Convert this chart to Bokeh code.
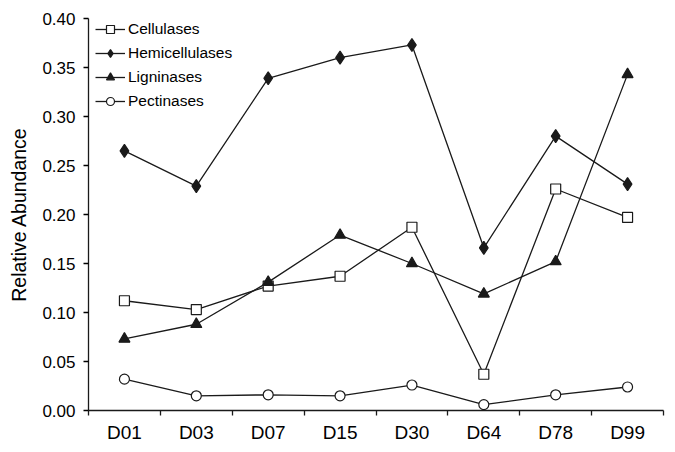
from bokeh.plotting import figure
from bokeh.models import (Range1d, FixedTicker, SingleIntervalTicker, NumeralTickFormatter,
                          Legend, LegendItem)
from bokeh.embed import file_html
from bokeh.resources import INLINE

days = ["D01", "D03", "D07", "D15", "D30", "D64", "D78", "D99"]
cellulases = [0.112, 0.103, 0.127, 0.137, 0.187, 0.037, 0.226, 0.197]
hemicellulases = [0.265, 0.229, 0.339, 0.360, 0.373, 0.166, 0.280, 0.231]
ligninases = [0.073, 0.088, 0.131, 0.179, 0.150, 0.119, 0.152, 0.343]
pectinases = [0.032, 0.015, 0.016, 0.015, 0.026, 0.006, 0.016, 0.024]

FONT = "Liberation Sans"
INK = "#1a1a1a"

xs = [i + 0.5 for i in range(len(days))]

p = figure(width=675, height=452,
           output_backend="svg", toolbar_location=None,
           x_range=Range1d(0, len(days)), y_range=Range1d(0, 0.40),
           min_border_left=88, min_border_top=18, min_border_right=12, min_border_bottom=42)
p.outline_line_color = None
p.xgrid.grid_line_color = None
p.ygrid.grid_line_color = None
p.background_fill_color = "white"
p.border_fill_color = "white"

# x axis: labels at centres, tick marks at category boundaries
p.xaxis.ticker = FixedTicker(ticks=xs, minor_ticks=list(range(len(days) + 1)))
p.xaxis.major_label_overrides = {x: d for x, d in zip(xs, days)}
p.xaxis.major_tick_line_color = None
p.xaxis.major_tick_out = 0
p.xaxis.major_tick_in = 0
p.xaxis.minor_tick_out = 5
p.xaxis.minor_tick_in = 0
p.xaxis.minor_tick_line_color = INK
p.xaxis.minor_tick_line_width = 1.3
p.xaxis.major_label_text_font = FONT
p.xaxis.major_label_text_font_size = "19px"
p.xaxis.major_label_text_color = "black"
p.xaxis.major_label_standoff = 6

p.yaxis.ticker = SingleIntervalTicker(interval=0.05, num_minor_ticks=0)
p.yaxis.formatter = NumeralTickFormatter(format="0.00")
p.yaxis.major_tick_out = 5
p.yaxis.major_tick_in = 0
p.yaxis.minor_tick_line_color = None
p.yaxis.major_label_text_font = FONT
p.yaxis.major_label_text_font_size = "17px"
p.yaxis.major_label_text_color = "black"
p.yaxis.major_label_standoff = 8
p.yaxis.axis_label = "Relative Abundance"
p.yaxis.axis_label_text_font = FONT
p.yaxis.axis_label_text_font_style = "normal"
p.yaxis.axis_label_text_font_size = "19.5px"
p.yaxis.axis_label_text_color = "black"
p.yaxis.axis_label_standoff = 9

for ax in (p.xaxis, p.yaxis):
    ax.axis_line_color = INK
    ax.axis_line_width = 1.3
    ax.major_tick_line_width = 1.3

series = [
    ("Cellulases", cellulases, "square", 10, "white"),
    ("Hemicellulases", hemicellulases, "diamond", 13, INK),
    ("Ligninases", ligninases, "triangle", 11, INK),
    ("Pectinases", pectinases, "circle", 10, "white"),
]

items = []
for name, vals, marker, size, fill in series:
    ln = p.line(xs, vals, line_color=INK, line_width=1.3)
    mk = p.scatter(xs, vals, marker=marker, size=size, fill_color=fill,
                   line_color=INK, line_width=1.2)
    items.append(LegendItem(label=name, renderers=[ln, mk]))

legend = Legend(items=items, location=(7, 299), padding=2, margin=0,
                glyph_width=30, glyph_height=20, spacing=4, label_standoff=3,
                label_text_font=FONT, label_text_font_size="15.5px",
                label_text_color="black", border_line_color=None,
                background_fill_alpha=0)
p.add_layout(legend)

open("out.html", "w").write(file_html(p, INLINE))
